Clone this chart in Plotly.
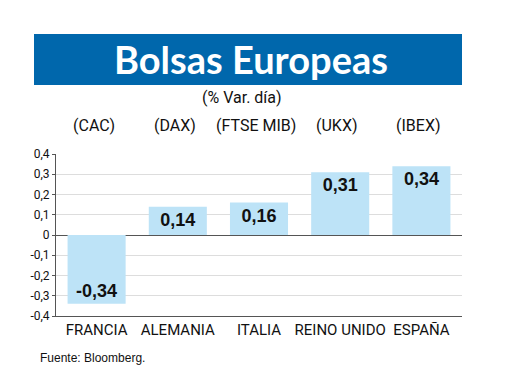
import plotly.graph_objects as go

countries = ["FRANCIA", "ALEMANIA", "ITALIA", "REINO UNIDO", "ESPAÑA"]
indices = ["(CAC)", "(DAX)", "(FTSE MIB)", "(UKX)", "(IBEX)"]
values = [-0.34, 0.14, 0.16, 0.31, 0.34]
labels = ["-0,34", "0,14", "0,16", "0,31", "0,34"]
tick_vals = [0.4, 0.3, 0.2, 0.1, 0, -0.1, -0.2, -0.3, -0.4]
tick_text = ["0,4", "0,3", "0,2", "0,1", "0", "-0,1", "-0,2", "-0,3", "-0,4"]

narrow = "Roboto, sans-serif"

fig = go.Figure()
fig.add_trace(go.Bar(
    x=countries, y=values,
    marker=dict(color="#BDE3F7", line=dict(width=0)),
    text=labels, textposition="inside", insidetextanchor="end",
    textfont=dict(family="Liberation Sans, Arial, sans-serif", size=18, color="#111111", weight="bold"),
    constraintext="none", cliponaxis=False, hoverinfo="skip",
))

W, H = 520, 390
L, R, T, B = 56, 58, 154, 74
pw, ph = W - L - R, H - T - B

def px(x):
    return (x - L) / pw

def py(y):
    return (H - B - y) / ph

fig.add_shape(type="rect", xref="paper", yref="paper",
              x0=px(34), x1=px(462), y0=py(85), y1=py(34),
              fillcolor="#0067AC", line=dict(width=0), layer="below")

fig.add_annotation(xref="paper", yref="paper", x=px(251), y=py(59),
                   text="<b>Bolsas Europeas</b>", showarrow=False,
                   font=dict(family="Lato, Open Sans, sans-serif", size=38, color="white"),
                   xanchor="center", yanchor="middle")
fig.add_annotation(xref="paper", yref="paper", x=px(242), y=py(97),
                   text="(% Var. día)", showarrow=False,
                   font=dict(family=narrow, size=16, color="#111111"),
                   xanchor="center", yanchor="middle")
for c, idx in zip(countries, indices):
    fig.add_annotation(xref="x", yref="paper", x=c, y=py(126), xshift=-3,
                       text=idx, showarrow=False,
                       font=dict(family=narrow, size=16, color="#111111"),
                       xanchor="center", yanchor="middle")
fig.add_annotation(xref="paper", yref="paper", x=px(38), y=py(358),
                   text="Fuente: Bloomberg.", showarrow=False,
                   font=dict(family="Liberation Sans, Arial, sans-serif", size=12, color="#111111"),
                   xanchor="left", yanchor="middle")

fig.update_layout(
    width=W, height=H,
    margin=dict(l=L, r=R, t=T, b=B, pad=0),
    paper_bgcolor="white", plot_bgcolor="white",
    bargap=0.285, showlegend=False,
    xaxis=dict(showgrid=False, showline=True, linecolor="#555555", linewidth=1,
               ticks="", tickfont=dict(family=narrow, size=15, color="#111111"),
               fixedrange=True),
    yaxis=dict(range=[-0.4, 0.4], tickvals=tick_vals, ticktext=tick_text,
               showgrid=True, gridcolor="#DDDDDD", gridwidth=1,
               zeroline=True, zerolinecolor="#555555", zerolinewidth=1,
               showline=True, linecolor="#555555", linewidth=1,
               ticks="outside", ticklen=3, tickcolor="#555555",
               tickfont=dict(family=narrow, size=12, color="#111111"),
               fixedrange=True),
)

fig.write_html("out.html", config={"displayModeBar": False},
               post_script="document.body.style.margin='0';document.body.style.padding='0';")
